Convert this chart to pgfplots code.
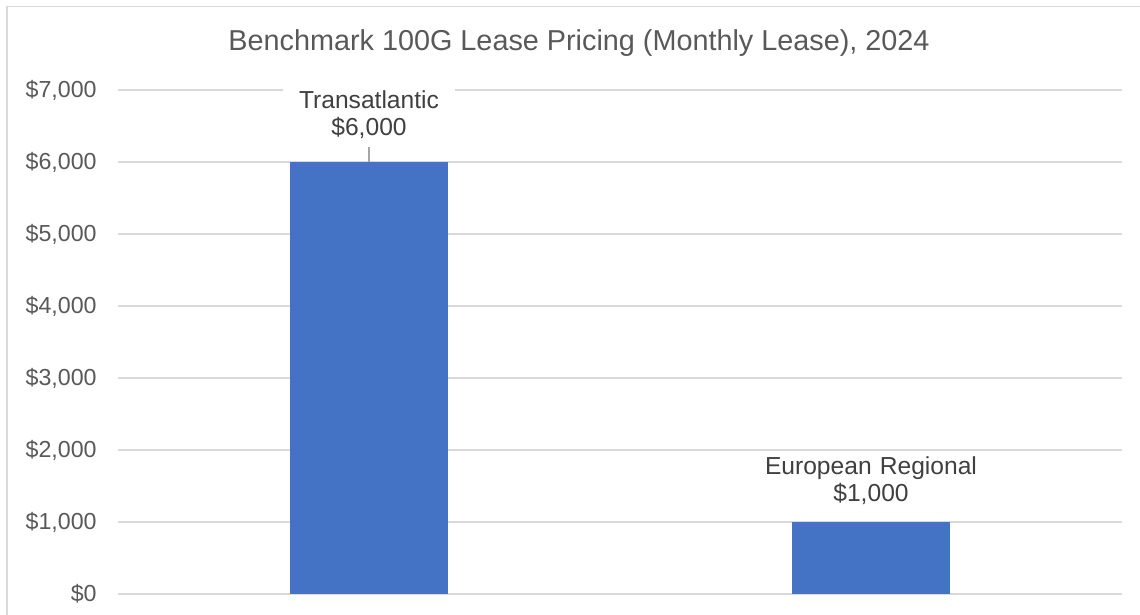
\documentclass[border=0pt]{standalone}
\usepackage{pgfplots}
\pgfplotsset{compat=1.18}
\usepackage{fontspec}
\setmainfont{Liberation Sans}
\definecolor{barblue}{HTML}{4472C4}
\definecolor{gridgray}{HTML}{D9D9D9}
\definecolor{txtgray}{HTML}{595959}
\definecolor{lblgray}{HTML}{404040}
\definecolor{leadgray}{HTML}{A6A6A6}
\begin{document}
\begin{tikzpicture}[x=0.5pt,y=0.5pt]
\useasboundingbox (0,0) rectangle (1140,615);
\draw[gridgray, line width=0.9pt] (7,-20) -- (7,608.5) -- (1160,608.5);
\node[txtgray, font=\fontsize{14.4}{16}\selectfont] at (579,572) {Benchmark 100G Lease Pricing (Monthly Lease), 2024};
\begin{axis}[
  at={(59pt,10.5pt)}, anchor=south west,
  scale only axis, width=502pt, height=252pt,
  xmin=-0.5, xmax=1.5, ymin=0, ymax=7000,
  xtick=\empty,
  ytick={0,1000,2000,3000,4000,5000,6000,7000},
  yticklabels={{\$0},{\$1,000},{\$2,000},{\$3,000},{\$4,000},{\$5,000},{\$6,000},{\$7,000}},
  /pgf/number format/assume math mode=true,
  yticklabel style={anchor=east, inner sep=0pt, xshift=-10.5pt, text=txtgray, font=\fontsize{11.6}{13.5}\selectfont},
  ymajorgrids, grid style={gridgray, line width=0.9pt},
  axis line style={draw=none}, major tick length=0pt,
  clip=false,
  ybar, bar width=79pt, bar shift=0pt,
]
\addplot[fill=barblue, draw=none,
  nodes near coords={Transatlantic\\\$6,000},
  nodes near coords style={anchor=south, align=center, fill=white, text=lblgray, inner sep=2pt, yshift=9.3pt, font=\fontsize{12.3}{13.5}\selectfont, text width=82pt}]
  coordinates {(0,6000)};
\addplot[fill=barblue, draw=none,
  nodes near coords={European Regional\\\$1,000},
  nodes near coords style={anchor=south, align=center, fill=white, text=lblgray, inner sep=2pt, yshift=6.3pt, font=\fontsize{12.3}{13.5}\selectfont, text width=110pt}]
  coordinates {(1,1000)};
\draw[leadgray, line width=0.75pt] (axis cs:0,6000) -- ([yshift=7.5pt]axis cs:0,6000);
\end{axis}
\end{tikzpicture}
\end{document}
